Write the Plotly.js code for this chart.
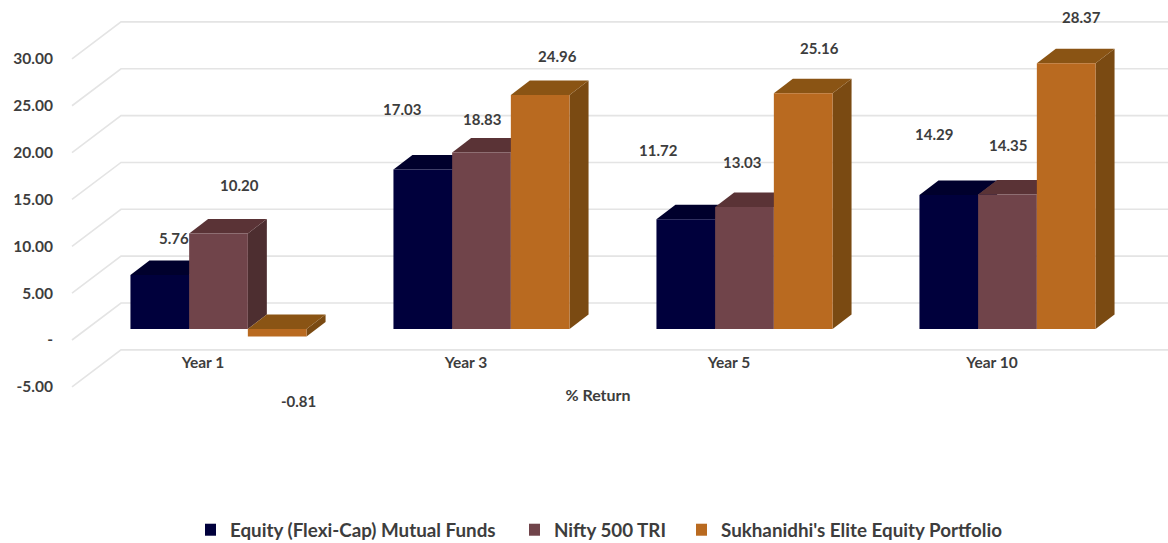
<!DOCTYPE html>
<html>
<head>
<meta charset="utf-8">
<script src="https://cdn.plot.ly/plotly-3.0.1.min.js"></script>
<style>html,body{margin:0;padding:0;background:#fff}#chart{width:1168px;height:543px}</style>
</head>
<body>
<div id="chart"></div>
<script>
// Returns by holding period
const categories = ['Year 1', 'Year 3', 'Year 5', 'Year 10'];
const equityFunds = [5.76, 17.03, 11.72, 14.29];
const nifty500 = [10.20, 18.83, 13.03, 14.35];
const eliteEquity = [-0.81, 24.96, 25.16, 28.37];
const gridValues = [-5, 0, 5, 10, 15, 20, 25, 30];

const seriesNames = ['Equity (Flexi-Cap) Mutual Funds', 'Nifty 500 TRI', "Sukhanidhi's Elite Equity Portfolio"];
const seriesValues = [equityFunds, nifty500, eliteEquity];
const frontColors = ['#00003c', '#70444a', '#b96a20'];
const topColors = ['#00002c', '#5a3336', '#8a5414'];
const sideColors = ['#000028', '#4d2e30', '#7a4a12'];

// Hand-placed value labels: [px right, px up] from the top of each bar
const labelNudges = [
  [[14, 37], [-21, 60], [-27, 69], [-15, 61]],
  [[21, 48], [0, 34], [-3, 45], [0, 50]],
  [[21, -64], [17, 39], [16, 45], [15, 46]]
];
// Left edge of each legend entry
const legendLefts = [205, 529, 696];

// Page geometry: one category step and one value unit in pixels
const W = 1168, H = 543;
const PX_CAT = 263, PX_UNIT = 9.37;
const GROUP0_PX = 218.5, PLOT_LEFT = 28;
const WALL_ZERO_PX = 340, BAR_ZERO_PX = 329;
const BAR_W = 58.7 / PX_CAT, GROUP_W = 3 * BAR_W;
const xRange = [(PLOT_LEFT - GROUP0_PX) / PX_CAT, (W - GROUP0_PX) / PX_CAT];
const wallRange = [(WALL_ZERO_PX - H) / PX_UNIT, WALL_ZERO_PX / PX_UNIT];
const barRange = [(BAR_ZERO_PX - H) / PX_UNIT, BAR_ZERO_PX / PX_UNIT];

// Depth offsets of the box faces and of the side wall, in axis units
const BOX_DX = 19 / PX_CAT, BOX_DY = 14.5 / PX_UNIT;
const WALL_DX = 49 / PX_CAT, WALL_DY = 37 / PX_UNIT;
const WALL_FRONT_X = (72 - GROUP0_PX) / PX_CAT;
const BAR_LIFT = (WALL_ZERO_PX - BAR_ZERO_PX) / PX_UNIT;

const FONT = 'Lato, "Open Sans", sans-serif';
const TEXT = '#3d3d3d';

// Floor and wall lines bend at the back corner and run to the right edge
const gridX = [], gridY = [];
gridValues.forEach(v => {
  gridX.push(WALL_FRONT_X, WALL_FRONT_X + WALL_DX, xRange[1], null);
  gridY.push(v, v + WALL_DY, v + WALL_DY, null);
});

const traces = [{
  type: 'scatter', mode: 'lines', x: gridX, y: gridY, showlegend: false, hoverinfo: 'skip',
  line: {color: '#e4e4e4', width: 1.6}
}];

// Top and side faces sit on the lower axes so the bar fronts cover them
seriesValues.forEach((values, s) => {
  values.forEach((v, c) => {
    const left = c + (s - 1.5) * BAR_W, right = left + BAR_W;
    const high = Math.max(v, 0) + BAR_LIFT, low = Math.min(v, 0) + BAR_LIFT;
    traces.push({
      type: 'scatter', mode: 'lines', fill: 'toself', fillcolor: sideColors[s],
      line: {width: 0}, showlegend: false, hoverinfo: 'skip',
      x: [right, right + BOX_DX, right + BOX_DX, right, right],
      y: [low, low + BOX_DY, high + BOX_DY, high, low]
    });
    traces.push({
      type: 'scatter', mode: 'lines', fill: 'toself', fillcolor: topColors[s],
      line: {width: 0}, showlegend: false, hoverinfo: 'skip',
      x: [left, right, right + BOX_DX, left + BOX_DX, left],
      y: [high, high, high + BOX_DY, high + BOX_DY, high]
    });
  });
});

seriesValues.forEach((values, s) => {
  traces.push({
    type: 'bar', name: seriesNames[s], x: [0, 1, 2, 3], y: values,
    xaxis: 'x2', yaxis: 'y2', marker: {color: frontColors[s]},
    legend: s === 0 ? 'legend' : 'legend' + (s + 1),
    hovertemplate: '%{y:.2f}<extra>' + seriesNames[s] + '</extra>'
  });
});

const annotations = [];
seriesValues.forEach((values, s) => {
  values.forEach((v, c) => {
    annotations.push({
      xref: 'x2', yref: 'y2', x: c + (s - 1) * BAR_W, y: v,
      xshift: labelNudges[s][c][0], yshift: labelNudges[s][c][1],
      text: v.toFixed(2), showarrow: false,
      font: {family: FONT, size: 15, color: TEXT, weight: 700}
    });
  });
});

const tickFont = {family: FONT, size: 15.5, color: TEXT, weight: 700};
const legendAt = left => ({
  orientation: 'h', x: left / W, xanchor: 'left', y: (H - 530) / H, yanchor: 'middle',
  font: {family: FONT, size: 18.8, color: TEXT, weight: 700},
  indentation: -15, bgcolor: 'rgba(0,0,0,0)'
});
const layout = {
  width: W, height: H,
  margin: {l: 0, r: 0, t: 0, b: 0, autoexpand: false},
  paper_bgcolor: '#fff', plot_bgcolor: '#fff',
  barmode: 'group', bargap: 1 - GROUP_W, bargroupgap: 0,
  showlegend: true,
  legend: legendAt(legendLefts[0]),
  legend2: legendAt(legendLefts[1]),
  legend3: legendAt(legendLefts[2]),
  xaxis: {
    domain: [PLOT_LEFT / W, 1], range: xRange, anchor: 'free', position: (H - 351) / H,
    tickmode: 'array', tickvals: categories.map((_, i) => i - 15.5 / PX_CAT), ticktext: categories,
    ticks: '', showgrid: false, zeroline: false, showline: false, tickfont: tickFont,
    title: {text: '% Return', font: {family: FONT, size: 16, color: TEXT, weight: 700}, standoff: 20}
  },
  yaxis: {
    domain: [0, 1], range: wallRange, anchor: 'free', position: 53 / W,
    tickmode: 'array', tickvals: gridValues,
    ticktext: gridValues.map(v => v === 0 ? '-' : v.toFixed(2)),
    ticks: '', showgrid: false, zeroline: false, showline: false, tickfont: tickFont
  },
  xaxis2: {domain: [PLOT_LEFT / W, 1], range: xRange, overlaying: 'x', visible: false},
  yaxis2: {domain: [0, 1], range: barRange, overlaying: 'y', visible: false},
  annotations: annotations
};

Plotly.newPlot('chart', traces, layout, {displayModeBar: false, responsive: false});
</script>
</body>
</html>
